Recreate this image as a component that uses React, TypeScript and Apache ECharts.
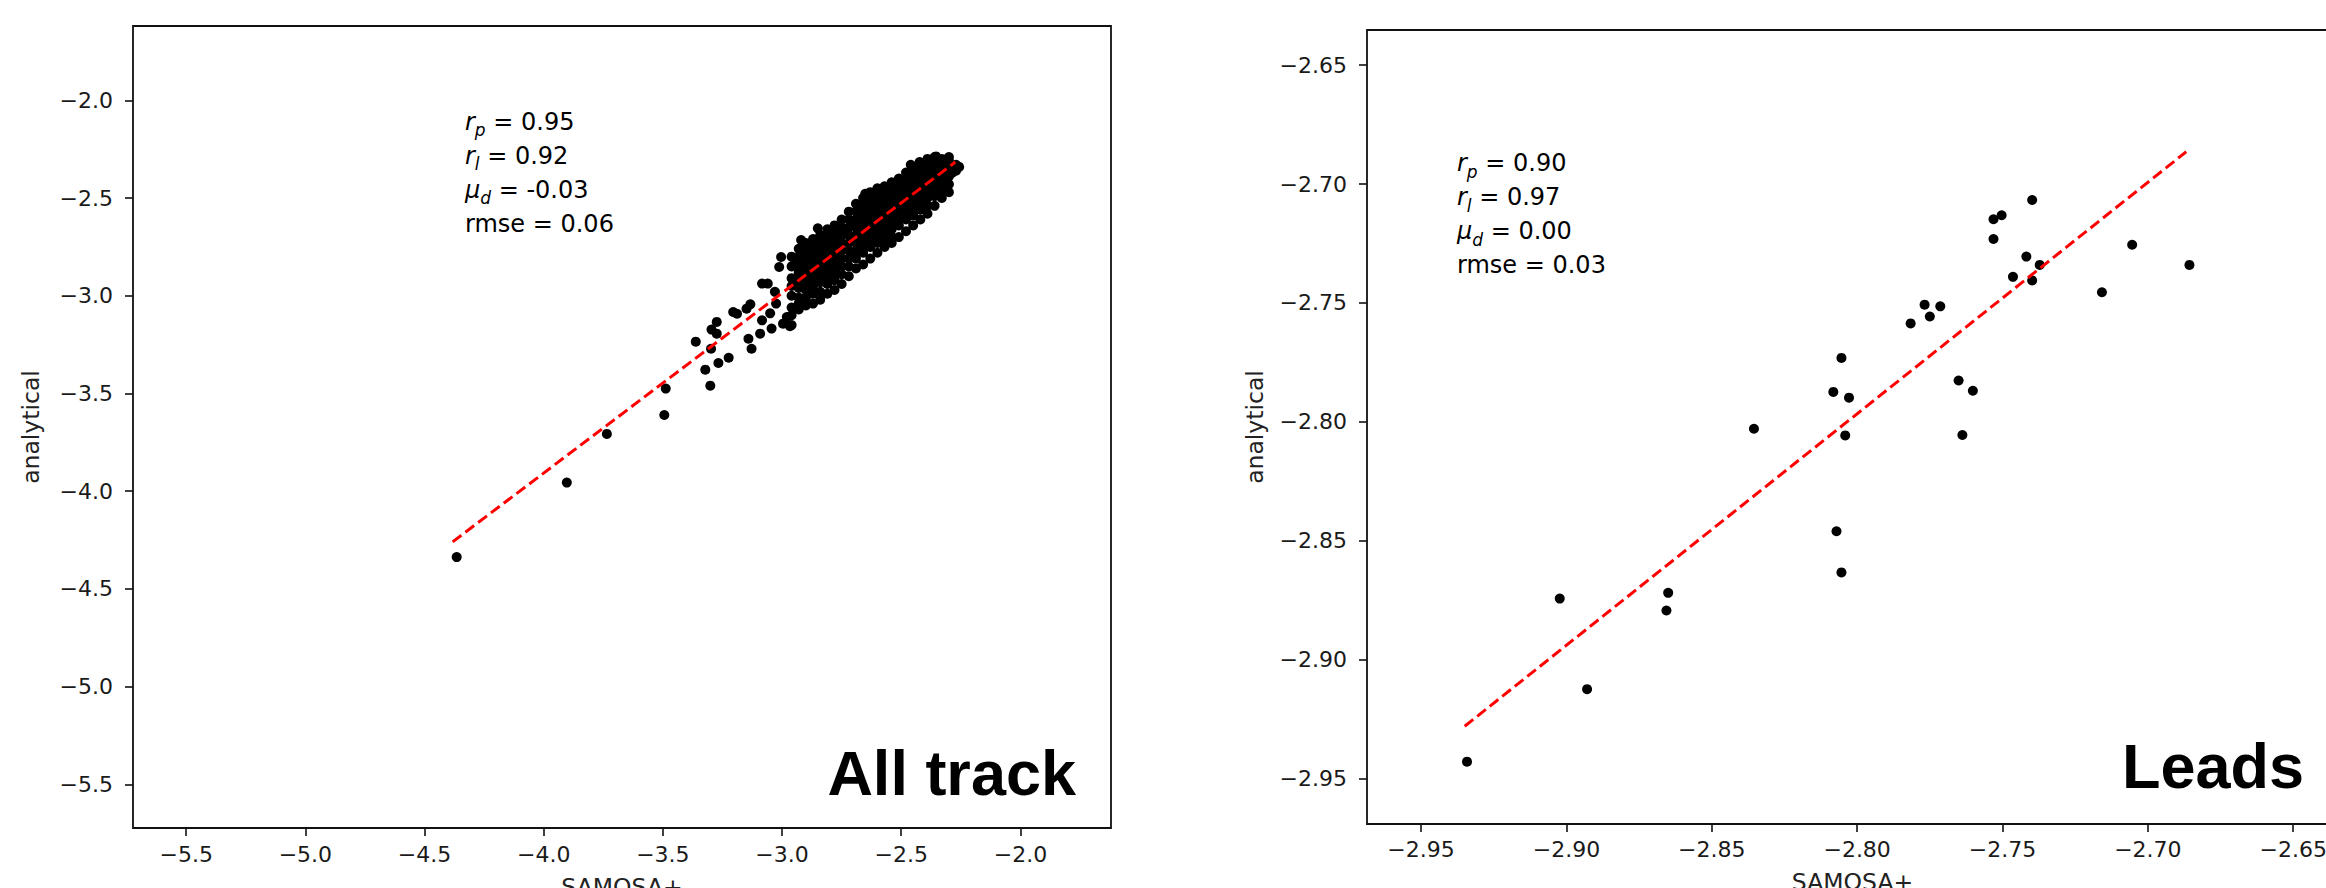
import React, { useEffect, useRef } from "react";
import * as echarts from "echarts";

// ---------- data ----------
const leftTicks = [-5.5, -5.0, -4.5, -4.0, -3.5, -3.0, -2.5, -2.0];
const rightTicks = [-2.95, -2.9, -2.85, -2.8, -2.75, -2.7, -2.65];

// "All track": isolated points (SAMOSA+, analytical)
const allTrackOutliers: [number, number][] = [
  [-4.365, -4.337], [-3.903, -3.956], [-3.735, -3.707], [-3.494, -3.610], [-3.488, -3.475],
  [-3.362, -3.235], [-3.322, -3.378], [-3.301, -3.460], [-3.298, -3.271], [-3.296, -3.173],
  [-3.274, -3.134], [-3.274, -3.194], [-3.267, -3.344], [-3.224, -3.317], [-3.205, -3.083],
  [-3.189, -3.092], [-3.149, -3.066], [-3.141, -3.220], [-3.133, -3.044], [-3.128, -3.271],
  [-3.092, -3.194], [-3.084, -3.126], [-3.084, -2.938], [-3.060, -2.938], [-3.044, -3.168],
  [-3.012, -2.853], [-3.004, -2.802], [-2.996, -3.143], [-2.980, -3.109], [-2.967, -3.156],
  [-3.030, -2.980], [-3.025, -3.040], [-3.050, -3.090], [-2.850, -2.655], [-2.920, -2.715],
  [-2.651, -2.478], [-2.423, -2.316], [-2.354, -2.287], [-2.257, -2.341], [-2.300, -2.290],
  [-2.460, -2.330],
];

// "All track": dense core, listed as columns of (SAMOSA+, [analytical values])
const allTrackCore: [number, number[]][] = [
  [-2.96, [-2.80, -2.85, -2.91, -2.95, -3.00, -3.06, -3.10, -3.15]],
  [-2.93, [-2.76, -2.80, -2.84, -2.88, -2.92, -2.96, -3.01, -3.04, -3.07]],
  [-2.90, [-2.73, -2.77, -2.81, -2.85, -2.89, -2.93, -2.97, -3.01, -3.05]],
  [-2.87, [-2.71, -2.75, -2.79, -2.83, -2.87, -2.91, -2.95, -2.99, -3.04]],
  [-2.84, [-2.69, -2.73, -2.77, -2.81, -2.85, -2.89, -2.93, -2.98, -3.02]],
  [-2.81, [-2.66, -2.70, -2.74, -2.78, -2.82, -2.86, -2.90, -2.94, -2.99]],
  [-2.78, [-2.64, -2.68, -2.72, -2.76, -2.80, -2.84, -2.88, -2.92, -2.97]],
  [-2.75, [-2.61, -2.65, -2.69, -2.73, -2.77, -2.81, -2.85, -2.89, -2.94]],
  [-2.72, [-2.57, -2.61, -2.65, -2.69, -2.73, -2.77, -2.81, -2.85, -2.90]],
  [-2.69, [-2.53, -2.57, -2.61, -2.65, -2.69, -2.73, -2.77, -2.81, -2.86]],
  [-2.66, [-2.50, -2.54, -2.58, -2.62, -2.66, -2.70, -2.74, -2.78, -2.84]],
  [-2.63, [-2.47, -2.51, -2.55, -2.59, -2.63, -2.67, -2.71, -2.75, -2.81]],
  [-2.60, [-2.45, -2.49, -2.53, -2.57, -2.61, -2.65, -2.69, -2.73, -2.78]],
  [-2.57, [-2.44, -2.48, -2.52, -2.56, -2.60, -2.64, -2.68, -2.72, -2.75]],
  [-2.54, [-2.42, -2.46, -2.50, -2.54, -2.58, -2.62, -2.66, -2.70, -2.73]],
  [-2.51, [-2.40, -2.44, -2.48, -2.52, -2.56, -2.60, -2.64, -2.70]],
  [-2.48, [-2.37, -2.41, -2.45, -2.49, -2.53, -2.57, -2.61, -2.67]],
  [-2.45, [-2.35, -2.39, -2.43, -2.47, -2.51, -2.55, -2.59, -2.64]],
  [-2.42, [-2.32, -2.36, -2.40, -2.44, -2.48, -2.52, -2.56, -2.61]],
  [-2.39, [-2.30, -2.34, -2.38, -2.42, -2.46, -2.50, -2.54, -2.58]],
  [-2.36, [-2.29, -2.33, -2.37, -2.41, -2.45, -2.49, -2.54]],
  [-2.33, [-2.30, -2.34, -2.38, -2.42, -2.46, -2.50]],
  [-2.30, [-2.31, -2.35, -2.39, -2.43, -2.47]],
  [-2.27, [-2.33, -2.36]],
];

// extra points between the core columns
const allTrackCoreFill: [number, number][] = [
  [-2.945, -2.83], [-2.915, -2.90], [-2.885, -2.96], [-2.855, -2.80], [-2.825, -2.88],
  [-2.795, -2.74], [-2.765, -2.86], [-2.735, -2.67], [-2.705, -2.79], [-2.675, -2.60],
  [-2.645, -2.72], [-2.615, -2.53], [-2.585, -2.66], [-2.555, -2.48], [-2.525, -2.62],
  [-2.495, -2.46], [-2.465, -2.57], [-2.435, -2.42], [-2.405, -2.50], [-2.375, -2.36],
  [-2.345, -2.44], [-2.315, -2.40], [-2.285, -2.37], [-2.705, -2.63], [-2.585, -2.58],
  [-2.465, -2.49], [-2.825, -2.76], [-2.885, -2.84],
];

const allTrackFit: [number, number][] = [[-4.382, -4.259], [-2.273, -2.316]];

// "Leads" points
const leadsPoints: [number, number][] = [
  [-2.9342, -2.9429], [-2.9023, -2.8743], [-2.8929, -2.9124], [-2.8650, -2.8719], [-2.8656, -2.8793],
  [-2.8355, -2.8029], [-2.8071, -2.8460], [-2.8054, -2.8633], [-2.8082, -2.7874], [-2.8054, -2.7731],
  [-2.8028, -2.7898], [-2.8041, -2.8057], [-2.7816, -2.7586], [-2.7768, -2.7507], [-2.7750, -2.7557],
  [-2.7714, -2.7514], [-2.7651, -2.7826], [-2.7602, -2.7869], [-2.7638, -2.8055], [-2.7531, -2.7148],
  [-2.7503, -2.7131], [-2.7531, -2.7231], [-2.7398, -2.7067], [-2.7418, -2.7305], [-2.7464, -2.7390],
  [-2.7398, -2.7405], [-2.7372, -2.7340], [-2.7158, -2.7455], [-2.7054, -2.7255], [-2.6857, -2.7340],
];
const leadsFit: [number, number][] = [[-2.935, -2.928], [-2.6868, -2.6864]];

const allTrackStats = ["0.95", "0.92", "-0.03", "0.06"];
const leadsStats = ["0.90", "0.97", "0.00", "0.03"];
const panelTitles = ["All track", "Leads"];
const xName = "SAMOSA+";
const yName = "analytical";

// ---------- helpers ----------
const FONT = "'DejaVu Sans', sans-serif";
const fmt = (d: number) => (v: number) => {
  const s = Number(v).toFixed(d);
  return s.replace("-", "\u2212");
};

const statText = (s: string[]) =>
  `{i|r}{sub|p}{n| = ${s[0]}}\n{i|r}{sub|l}{n| = ${s[1]}}\n{i|\u03bc}{sub|d}{n| = ${s[2]}}\n{n|rmse = ${s[3]}}`;

const statRich = {
  n: { fontSize: 24, fontFamily: FONT, color: "#111", lineHeight: 34 },
  i: { fontSize: 24, fontFamily: FONT, fontStyle: "italic", color: "#111", lineHeight: 34 },
  sub: {
    fontSize: 17,
    fontFamily: FONT,
    fontStyle: "italic",
    color: "#111",
    lineHeight: 20,
    verticalAlign: "bottom",
  },
};

function axis(ticks: number[], decimals: number, min: number, max: number, gridIndex: number, isX: boolean, labelMargin: number, nameGap: number) {
  return {
    type: "value",
    gridIndex,
    min,
    max,
    name: isX ? xName : yName,
    nameLocation: "middle",
    nameGap,
    nameRotate: isX ? 0 : 90,
    nameTextStyle: { fontSize: 23.5, fontFamily: FONT, color: "#222" },
    axisLine: { show: false },
    splitLine: { show: false },
    axisTick: {
      show: true,
      inside: false,
      length: 8,
      lineStyle: { color: "#111", width: 1.6 },
      customValues: ticks,
    },
    axisLabel: {
      customValues: ticks,
      formatter: fmt(decimals),
      fontSize: 22,
      fontFamily: FONT,
      color: "#1a1a1a",
      margin: labelMargin,
    },
  };
}

export default function App() {
  const ref = useRef<HTMLDivElement>(null);
  useEffect(() => {
    document.body.style.margin = "0";
    document.body.style.overflow = "hidden";
    if (!ref.current) return;
    const chart = echarts.init(ref.current, undefined, { renderer: "svg" });

    const coreData: [number, number][] = [];
    allTrackCore.forEach(([x, ys]) => ys.forEach((y) => coreData.push([x, y])));
    const leftData = [...allTrackOutliers, ...coreData, ...allTrackCoreFill];

    const scatterStyle = { color: "#000", opacity: 1 };

    const option = {
      animation: false,
      backgroundColor: "#fff",
      grid: [
        {
          left: 133, top: 26, width: 978, height: 802,
          outerBoundsMode: "none", containLabel: false,
          show: true, borderColor: "#111", borderWidth: 1.8, backgroundColor: "transparent",
        },
        {
          left: 1367, top: 30, width: 971, height: 794,
          outerBoundsMode: "none", containLabel: false,
          show: true, borderColor: "#111", borderWidth: 1.8, backgroundColor: "transparent",
        },
      ],
      xAxis: [
        axis(leftTicks, 1, -5.723, -1.62, 0, true, 15, 47),
        axis(rightTicks, 2, -2.9686, -2.6346, 1, true, 14, 46),
      ],
      yAxis: [
        axis(leftTicks, 1, -5.723, -1.62, 0, false, 20, 90),
        axis(rightTicks, 2, -2.9691, -2.6352, 1, false, 20, 100),
      ],
      series: [
        {
          type: "scatter",
          xAxisIndex: 0,
          yAxisIndex: 0,
          data: leftData,
          symbol: "circle",
          symbolSize: 10,
          itemStyle: scatterStyle,
          z: 2,
        },
        {
          type: "line",
          xAxisIndex: 0,
          yAxisIndex: 0,
          data: allTrackFit,
          symbol: "none",
          lineStyle: { color: "#ff0000", width: 3, type: [11, 5] },
          z: 3,
        },
        {
          type: "scatter",
          xAxisIndex: 1,
          yAxisIndex: 1,
          data: leadsPoints,
          symbol: "circle",
          symbolSize: 10,
          itemStyle: scatterStyle,
          z: 2,
        },
        {
          type: "line",
          xAxisIndex: 1,
          yAxisIndex: 1,
          data: leadsFit,
          symbol: "none",
          lineStyle: { color: "#ff0000", width: 3, type: [11, 5] },
          z: 3,
        },
      ],
      graphic: [
        {
          type: "text",
          x: 465,
          y: 104.6,
          z: 10,
          style: { text: statText(allTrackStats), rich: statRich, verticalAlign: "top", align: "left" },
        },
        {
          type: "text",
          x: 1457,
          y: 146.3,
          z: 10,
          style: { text: statText(leadsStats), rich: statRich, verticalAlign: "top", align: "left" },
        },
        {
          type: "text",
          x: 1076,
          y: 773,
          z: 10,
          style: {
            text: panelTitles[0],
            fontSize: 63,
            fontWeight: "bold",
            fontFamily: "'Liberation Sans', Arial, sans-serif",
            fill: "#000",
            align: "right",
            verticalAlign: "middle",
          },
        },
        {
          type: "text",
          x: 2304,
          y: 765.5,
          z: 10,
          style: {
            text: panelTitles[1],
            fontSize: 63,
            fontWeight: "bold",
            fontFamily: "'Liberation Sans', Arial, sans-serif",
            fill: "#000",
            align: "right",
            verticalAlign: "middle",
          },
        },
      ],
    };
    chart.setOption(option as any);
    return () => chart.dispose();
  }, []);
  return (
    <div
      ref={ref}
      style={{ position: "fixed", left: 0, top: 0, width: 2326, height: 888, background: "#fff" }}
    />
  );
}
